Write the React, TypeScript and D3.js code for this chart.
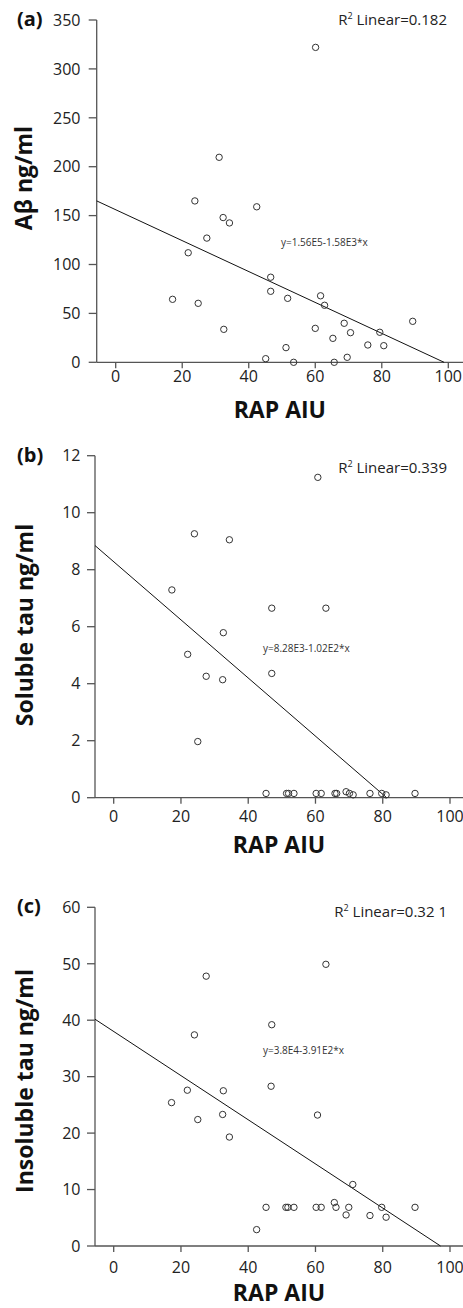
import React from 'react';
import * as d3 from 'd3';

// RAP AIU (x) vs concentration (y)
const rapA = [23.8, 42.4, 32.3, 34.2, 27.4, 21.8, 46.6, 46.6, 51.7, 17.1, 24.8, 61.6, 62.8, 32.5, 60, 68.7, 70.6, 65.3, 79.4, 75.8, 80.6, 89.3, 51.2, 45.1, 53.5, 65.7, 69.6, 60.1, 31.1];
const abeta = [165, 159, 148, 142.5, 127, 112, 87, 72.6, 65.4, 64.4, 60.3, 68, 58.3, 33.7, 34.7, 39.9, 30.3, 24.5, 30.7, 17.7, 17, 41.9, 15, 3.7, 0, 0, 5.1, 322, 209.6];

const rapB = [60.7, 24, 34.4, 17.3, 47, 63.1, 32.6, 22, 27.5, 32.4, 47, 25, 45.3, 51.4, 52, 53.6, 60.2, 61.7, 65.8, 66.3, 69.1, 70.1, 71.2, 76.2, 79.7, 81, 89.6];
const solTau = [11.24, 9.26, 9.05, 7.29, 6.65, 6.65, 5.79, 5.03, 4.26, 4.14, 4.36, 1.97, 0.15, 0.15, 0.15, 0.15, 0.15, 0.15, 0.15, 0.15, 0.21, 0.15, 0.1, 0.15, 0.15, 0.1, 0.15];

const rapC = [27.5, 63.1, 24, 47, 17.2, 21.9, 25, 32.6, 32.4, 34.4, 46.8, 60.6, 71.1, 45.3, 51.2, 51.8, 53.6, 60.2, 61.7, 66.1, 69.9, 79.7, 89.6, 65.6, 69.1, 76.2, 81, 42.5];
const insolTau = [47.8, 49.9, 37.4, 39.2, 25.4, 27.6, 22.4, 27.5, 23.3, 19.3, 28.3, 23.2, 10.9, 6.85, 6.85, 6.85, 6.85, 6.85, 6.85, 6.85, 6.85, 6.85, 6.85, 7.7, 5.5, 5.4, 5.1, 2.9];

// fitted lines (in the axis units)
const intercepts = [156, 8.28, 38];
const slopes = [-1.58, -0.102, -0.391];

const panelLetters = ['(a)', '(b)', '(c)'];
const yTitles = ['Aβ ng/ml', 'Soluble tau ng/ml', 'Insoluble tau ng/ml'];
const r2Values = ['0.182', '0.339', '0.32 1'];
const equations = ['y=1.56E5-1.58E3*x', 'y=8.28E3-1.02E2*x', 'y=3.8E4-3.91E2*x'];
const yMaxes = [350, 12, 60];
const yStep = [50, 2, 10];
const xTicks = [0, 20, 40, 60, 80, 100];

const W = 463;
const H = 1308;
const font = '"Open Sans", "DejaVu Sans", sans-serif';

interface Layout {
  axisX: number; y0: number; yTop: number; x0: number; x100: number;
  tickDy: number; titleY: number; yTitleX: number; yTitleCy: number;
  r2Y: number; eqX: number; eqY: number;
}

const layouts: Layout[] = [
  { axisX: 96.7, y0: 362.3, yTop: 20, x0: 115.7, x100: 448.3, tickDy: 20, titleY: 418, yTitleX: 32, yTitleCy: 178, r2Y: 25, eqX: 281, eqY: 246 },
  { axisX: 95, y0: 797.7, yTop: 455.7, x0: 113.7, x100: 450, tickDy: 24, titleY: 853, yTitleX: 33, yTitleCy: 625, r2Y: 473, eqX: 263, eqY: 652 },
  { axisX: 95, y0: 1246, yTop: 907.3, x0: 113.7, x100: 450, tickDy: 27, titleY: 1301, yTitleX: 33, yTitleCy: 1081, r2Y: 917, eqX: 263, eqY: 1054 },
];

const xsData = [rapA, rapB, rapC];
const ysData = [abeta, solTau, insolTau];

const axisColor = '#555';
const textColor = '#222';

function Panel({ i }: { i: number }) {
  const L = layouts[i];
  const x = d3.scaleLinear().domain([0, 100]).range([L.x0, L.x100]);
  const y = d3.scaleLinear().domain([0, yMaxes[i]]).range([L.y0, L.yTop]);
  const yTicks = d3.range(0, yMaxes[i] + 1e-9, yStep[i]);
  const xMin = x.invert(L.axisX);
  const b = intercepts[i];
  const m = slopes[i];
  const xEnd = -b / m;
  const pts = xsData[i].map((v, k) => [v, ysData[i][k]]);

  return (
    <g>
      {/* axes */}
      <line x1={L.axisX} x2={L.axisX} y1={L.y0} y2={L.yTop} stroke={axisColor} strokeWidth={1.3} />
      <line x1={L.axisX} x2={W} y1={L.y0} y2={L.y0} stroke={axisColor} strokeWidth={1.3} />
      {yTicks.map(t => (
        <g key={'y' + t}>
          <line x1={L.axisX - 8} x2={L.axisX} y1={y(t)} y2={y(t)} stroke={axisColor} strokeWidth={1.3} />
          <text x={80.5} y={y(t)} dy="0.36em" textAnchor="end" fontSize={16} fill={textColor} fontFamily={font}>{t}</text>
        </g>
      ))}
      {xTicks.map(t => (
        <g key={'x' + t}>
          <line x1={x(t)} x2={x(t)} y1={L.y0} y2={L.y0 + 6} stroke={axisColor} strokeWidth={1.3} />
          <text x={x(t)} y={L.y0 + L.tickDy} textAnchor="middle" fontSize={16} fill={textColor} fontFamily={font}>{t}</text>
        </g>
      ))}

      {/* regression line */}
      <line x1={x(xMin)} y1={y(b + m * xMin)} x2={x(xEnd)} y2={y(0)} stroke="#111" strokeWidth={1} />

      {/* points */}
      {pts.map(([px, py], k) => (
        <circle key={k} cx={x(px)} cy={y(py)} r={3.2} fill="none" stroke="#333" strokeWidth={1} />
      ))}

      {/* labels */}
      <text x={17} y={L.yTop + 6} fontSize={20} fontWeight="bold" fill="#111" fontFamily={font}>{panelLetters[i]}</text>
      <text x={447} y={L.r2Y} textAnchor="end" fontSize={15} fill={textColor} fontFamily={font}>
        R<tspan fontSize={9} dy={-6}>2</tspan><tspan dy={6}> Linear={r2Values[i]}</tspan>
      </text>
      <text x={L.eqX} y={L.eqY} fontSize={10} fill="#333" fontFamily={font}>{equations[i]}</text>
      <text x={(L.axisX + W) / 2} y={L.titleY} textAnchor="middle" fontSize={23} fontWeight="bold" fill="#111" fontFamily={font}>RAP AIU</text>
      <text transform={`translate(${L.yTitleX},${L.yTitleCy}) rotate(-90)`} textAnchor="middle" fontSize={23} fontWeight="bold" fill="#111" fontFamily={font}>{yTitles[i]}</text>
    </g>
  );
}

export default function App() {
  return (
    <svg width={W} height={H} viewBox={`0 0 ${W} ${H}`} style={{ position: 'absolute', left: 0, top: 0, background: '#fff' }}>
      <rect width={W} height={H} fill="#fff" />
      {[0, 1, 2].map(i => <Panel key={i} i={i} />)}
    </svg>
  );
}
